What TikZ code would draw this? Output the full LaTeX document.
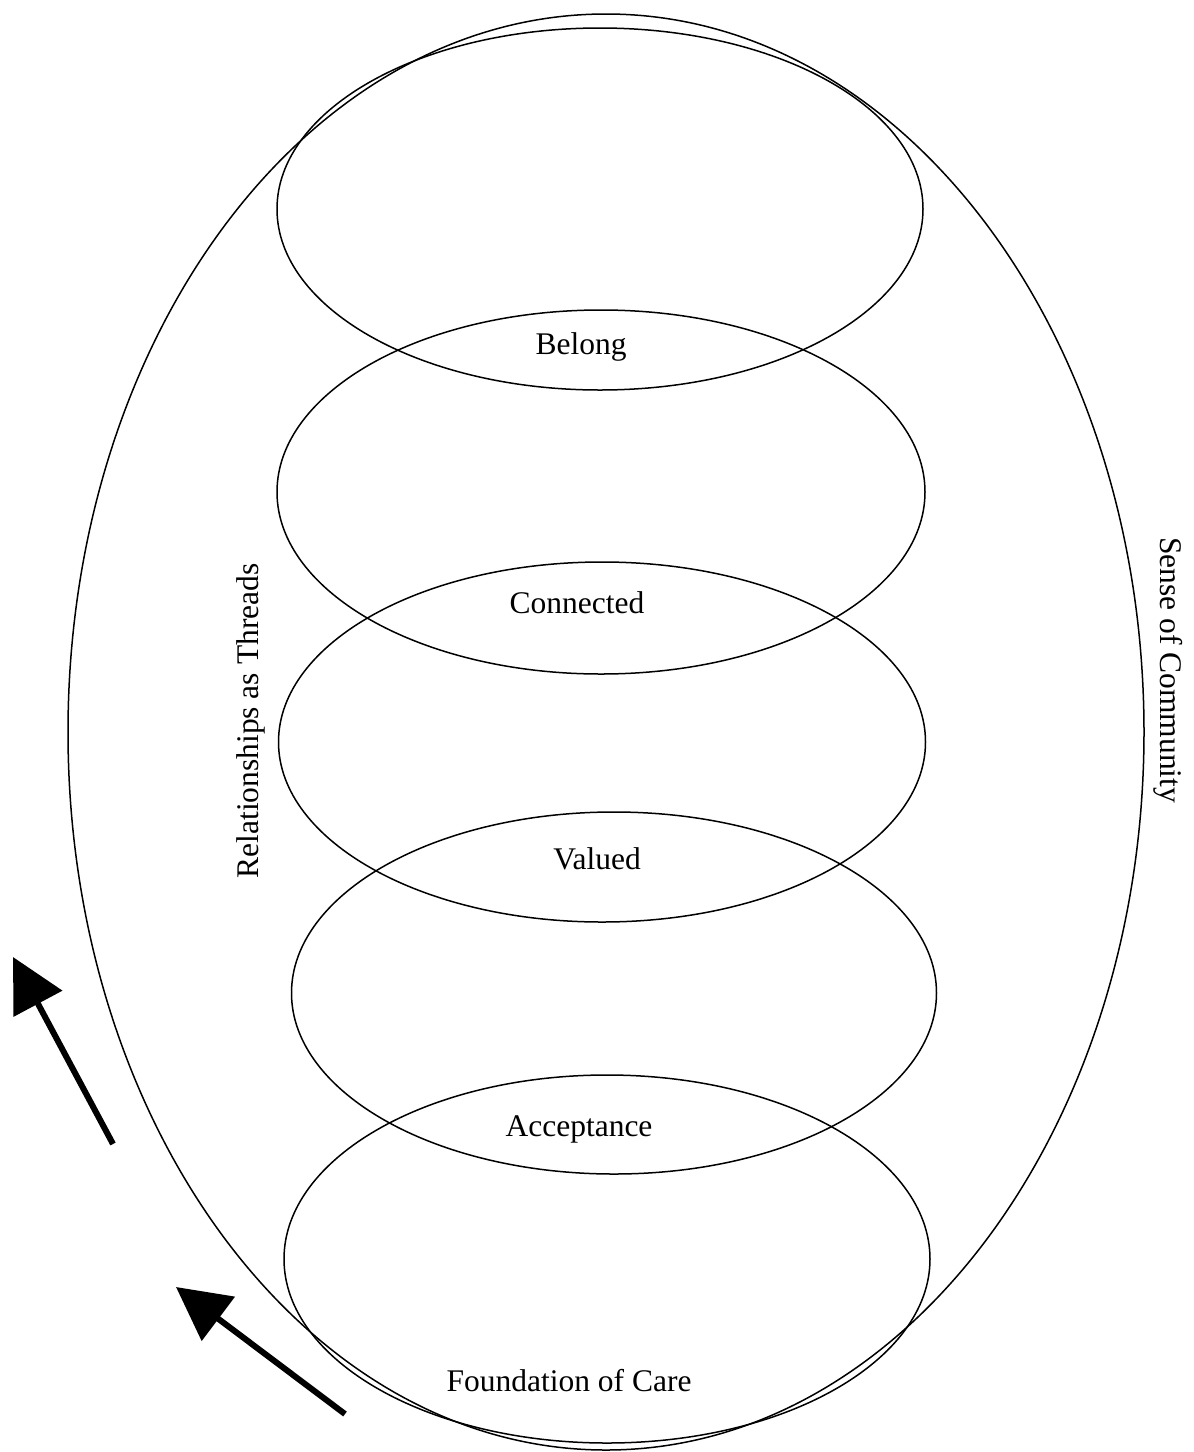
\documentclass[tikz,border=0pt]{standalone}
\usepackage{fontspec}
\setmainfont{Liberation Serif}
\usetikzlibrary{shapes.geometric,arrows.meta}
\begin{document}
\begin{tikzpicture}[x=1pt,y=-1pt,
  ring/.style={ellipse, draw, line width=1.5pt, inner sep=0pt, outer sep=0pt},
  lbl/.style={anchor=base, inner sep=0pt, font=\fontsize{31.5}{38}\selectfont},
  bigarrow/.style={line width=6pt, -{Triangle[length=53pt,width=54pt]}}]
\useasboundingbox (0,0) rectangle (1194,1452);
% outer ellipse
\node[ring, minimum width=1076pt, minimum height=1436pt] (outer) at (606,732) {};
% inner ellipses
\node[ring, minimum width=646pt, minimum height=362pt] (e1) at (600,209) {};
\node[ring, minimum width=648pt, minimum height=364pt] (e2) at (601,492) {};
\node[ring, minimum width=647pt, minimum height=360pt] (e3) at (602,742) {};
\node[ring, minimum width=645pt, minimum height=362pt] (e4) at (614,993) {};
\node[ring, minimum width=646pt, minimum height=368pt] (e5) at (607,1259) {};
% labels
\node[lbl] (belong) at (581,354) {Belong};
\node[lbl] (connected) at (577,613) {Connected};
\node[lbl] (valued) at (597,869) {Valued};
\node[lbl] (acceptance) at (579,1136) {Acceptance};
\node[lbl] (foundation) at (569,1391) {Foundation of Care};
\node[lbl, rotate=90] (threads) at (258,721) {Relationships as Threads};
\node[lbl, rotate=-90] (community) at (1160,670) {Sense of Community};
% arrows
\coordinate (a1s) at (113,1144);
\coordinate (a1e) at (13,957);
\coordinate (a2s) at (345,1414);
\coordinate (a2e) at (176,1287);
\draw[bigarrow] (a1s) -- (a1e);
\draw[bigarrow] (a2s) -- (a2e);
\end{tikzpicture}
\end{document}
